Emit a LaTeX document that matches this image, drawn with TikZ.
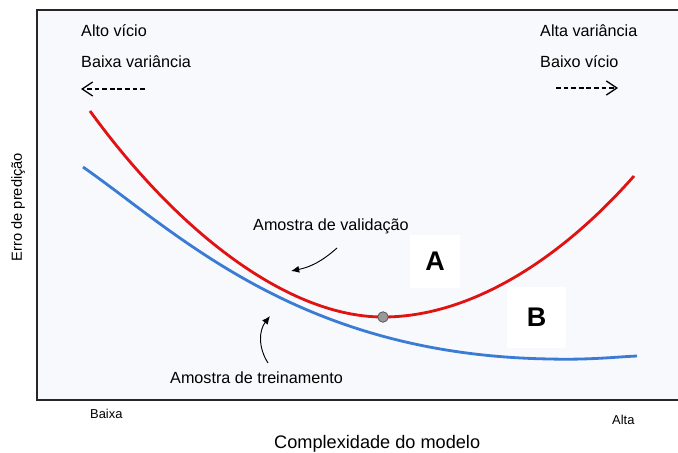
\documentclass[tikz,border=0pt]{standalone}
\usepackage{fontspec}
\setmainfont{Liberation Sans}
\usetikzlibrary{arrows.meta}
\definecolor{fundo}{HTML}{F8F9FC}
\definecolor{vermelho}{HTML}{E01212}
\definecolor{azul}{HTML}{3A7BD5}
\begin{document}
\begin{tikzpicture}[x=0.03cm, y=-0.03cm,
    txt/.style={inner sep=0pt, font=\fontsize{13.8}{16}\selectfont},
    small/.style={inner sep=0pt, font=\fontsize{11}{13}\selectfont},
    letra/.style={fill=white, inner sep=0pt, font=\bfseries\fontsize{23}{26}\selectfont},
    tracejada/.style={line width=1.1pt, dash pattern=on 4pt off 2.5pt, -{Straight Barb[length=9pt, width=12pt, line width=1.1pt]}},
    seta/.style={line width=0.8pt, -{Latex[length=7pt, width=6pt]}},
    curva/.style={line width=2.4pt}]
  \useasboundingbox (0,0) rectangle (678,452);
  \fill[white] (0,0) rectangle (678,452);
  \fill[fundo] (37,10) rectangle (678,400);
  \draw[line width=1.7pt, black!85] (678,10) -- (37,10) -- (37,400) -- (678,400);

  % textos do topo
  \node[txt, anchor=base west] at (81,37) (altovicio) {Alto vício};
  \node[txt, anchor=base west] at (81,68) (baixavar) {Baixa variância};
  \node[txt, anchor=base west] at (540,37) (altavar) {Alta variância};
  \node[txt, anchor=base west] at (540,68) (baixovicio) {Baixo vício};
  \coordinate (esq1) at (145,89);
  \coordinate (esq2) at (81,89);
  \coordinate (dir1) at (556,88);
  \coordinate (dir2) at (618,88);
  \draw[tracejada] (esq1) -- (esq2);
  \draw[tracejada] (dir1) -- (dir2);

  % curvas
  \draw[vermelho, curva] (90,111) .. controls (180,235) and (290,317) .. (383,317)
    .. controls (470,317) and (560,260) .. (634,176);
  \draw[azul, curva] (83,167) .. controls (180,235) and (300,355) .. (550,359)
    .. controls (590,360) and (615,357) .. (637,356);
  \node[circle, fill=gray!80, draw=black!70, line width=0.6pt, inner sep=0pt, minimum size=9pt] at (383,317) (minimo) {};

  % rotulos das curvas
  \node[txt, anchor=base west] at (253,230) (valid) {Amostra de validação};
  \coordinate (v1) at (337,248);
  \coordinate (v2) at (291,271);
  \draw[seta] (v1) to[bend left=15] (v2);
  \node[txt, anchor=base west] at (170,383) (trein) {Amostra de treinamento};
  \coordinate (t1) at (268,363);
  \coordinate (t2) at (270,316);
  \draw[seta] (t1) to[bend left=35] (t2);

  \node[letra, minimum width=1.5cm, minimum height=1.59cm] at (435,261.5) (A) {A};
  \node[letra, minimum width=1.77cm, minimum height=1.83cm] at (536.5,317.5) (B) {B};

  % eixos
  \node[small, anchor=base west] at (90,418) (baixa) {Baixa};
  \node[small, anchor=base west] at (612,424) (alta) {Alta};
  \node[inner sep=0pt, anchor=base west, font=\fontsize{15.5}{18}\selectfont] at (274,448) (eixox) {Complexidade do modelo};
  \node[inner sep=0pt, rotate=90, font=\fontsize{12.5}{15}\selectfont] at (18,207) (eixoy) {Erro de predição};
\end{tikzpicture}
\end{document}
